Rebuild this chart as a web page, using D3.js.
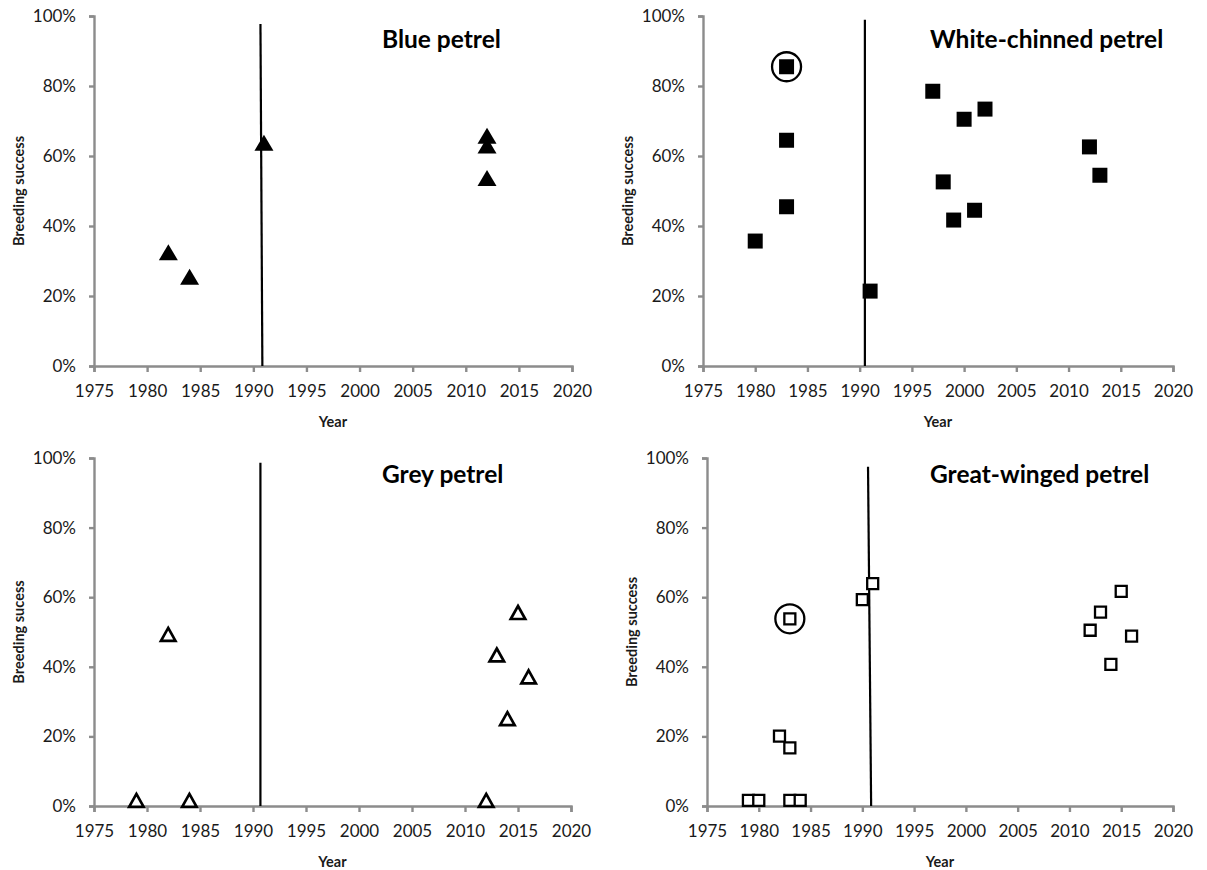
<!DOCTYPE html>
<html>
<head>
<meta charset="utf-8">
<script src="https://cdn.jsdelivr.net/npm/d3@7"></script>
<style>
  body { margin: 0; background: #fff; }
  svg { display: block; font-family: Lato, "Open Sans", sans-serif; }
</style>
</head>
<body>
<div id="chart"></div>
<script>
// Data, values in %
const xTicks = [1975, 1980, 1985, 1990, 1995, 2000, 2005, 2010, 2015, 2020];
const yTicks = [0, 20, 40, 60, 80, 100];

const titles = ["Blue petrel", "White-chinned petrel", "Grey petrel", "Great-winged petrel"];
const yLabels = ["Breeding success", "Breeding success", "Breeding sucess", "Breeding success"];

const blueYears = [1982, 1984, 1991, 2012, 2012, 2012];
const blueValues = [32.5, 25.5, 63.8, 65.8, 63, 53.7];
const blueRing = [0, 0, 0, 0, 0, 0];

const wcpYears = [1980, 1983, 1983, 1983, 1991, 1997, 1998, 1999, 2000, 2001, 2002, 2012, 2013];
const wcpValues = [35.7, 45.5, 64.5, 85.5, 21.4, 78.5, 52.6, 41.7, 70.5, 44.5, 73.4, 62.6, 54.5];
const wcpRing = [0, 0, 0, 1, 0, 0, 0, 0, 0, 0, 0, 0, 0];

const greyYears = [1979, 1982, 1984, 2012, 2013, 2014, 2015, 2016];
const greyValues = [1.6, 49.3, 1.6, 1.6, 43.4, 25.1, 55.6, 37.1];
const greyRing = [0, 0, 0, 0, 0, 0, 0, 0];

const gwpYears = [1979, 1980, 1982, 1983, 1983, 1984, 1983, 1990, 1991, 2012, 2013, 2014, 2015, 2016];
const gwpValues = [1.6, 1.6, 20.1, 16.7, 1.6, 1.6, 53.8, 59.3, 63.9, 50.5, 55.7, 40.7, 61.7, 48.8];
const gwpRing = [0, 0, 0, 0, 0, 0, 1, 0, 0, 0, 0, 0, 0, 0];

// vertical reference line per panel: year at top, year at bottom, top value (%)
const lineTopYear = [1990.67, 1990.5, 1990.7, 1990.55];
const lineBottomYear = [1990.85, 1990.5, 1990.7, 1990.85];
const lineTopValue = [97.7, 98.9, 98.6, 97.5];

// Layout
const W = 1207, H = 870;
const panels = [
  { left: 94, top: 16, width: 478, height: 350, titleX: 382, titleY: 48 },
  { left: 703, top: 16, width: 470, height: 350, titleX: 930, titleY: 48 },
  { left: 94, top: 458, width: 477, height: 348, titleX: 382, titleY: 483 },
  { left: 707, top: 458, width: 466, height: 348, titleX: 930, titleY: 483 }
];

// triangle centred on its bounding box (like Excel markers)
function triangle(w, h) {
  return {
    draw(ctx) {
      ctx.moveTo(0, -h / 2);
      ctx.lineTo(w / 2, h / 2);
      ctx.lineTo(-w / 2, h / 2);
      ctx.closePath();
    }
  };
}

const markers = [
  { type: triangle(19, 16), size: 0, fill: "#000", stroke: "none", sw: 0 },
  { type: d3.symbolSquare, size: 225, fill: "#000", stroke: "none", sw: 0 },
  { type: triangle(14.5, 13), size: 0, fill: "#fff", stroke: "#000", sw: 2.7 },
  { type: d3.symbolSquare, size: 121, fill: "#fff", stroke: "#000", sw: 2.3 }
];

const series = [
  { years: blueYears, values: blueValues, ring: blueRing },
  { years: wcpYears, values: wcpValues, ring: wcpRing },
  { years: greyYears, values: greyValues, ring: greyRing },
  { years: gwpYears, values: gwpValues, ring: gwpRing }
];

const svg = d3.select("#chart")
  .append("svg")
  .attr("width", W)
  .attr("height", H);

panels.forEach((p, i) => {
  const g = svg.append("g").attr("transform", `translate(${p.left},${p.top})`);

  const x = d3.scaleLinear().domain([1975, 2020]).range([0, p.width]);
  const y = d3.scaleLinear().domain([0, 100]).range([p.height, 0]);

  // X axis
  const xAxis = g.append("g")
    .attr("transform", `translate(0,${p.height})`)
    .call(d3.axisBottom(x).tickValues(xTicks).tickFormat(d3.format("d")).tickSize(6).tickPadding(13));

  // Y axis
  const yAxis = g.append("g")
    .call(d3.axisLeft(y).tickValues(yTicks).tickFormat(d => d + "%").tickSize(5).tickPadding(13));

  [xAxis, yAxis].forEach(a => {
    a.select(".domain").attr("stroke", "#8c8c8c").attr("stroke-width", 2.4);
    a.selectAll(".tick line").attr("stroke", "#8c8c8c").attr("stroke-width", 2.4);
    a.selectAll(".tick text")
      .attr("fill", "#1a1a1a")
      .style("font-size", "17px")
      .style("font-family", "Lato, 'Open Sans', sans-serif");
  });

  // vertical reference line
  g.append("line")
    .attr("x1", x(lineTopYear[i]))
    .attr("x2", x(lineBottomYear[i]))
    .attr("y1", y(lineTopValue[i]))
    .attr("y2", y(0))
    .attr("stroke", "#000")
    .attr("stroke-width", 2.2);

  // points
  const s = series[i];
  const m = markers[i];
  const pts = s.years.map((yr, k) => ({ year: yr, value: s.values[k], ring: s.ring[k] }));

  g.selectAll(".pt")
    .data(pts)
    .enter()
    .append("path")
    .attr("class", "pt")
    .attr("transform", d => `translate(${x(d.year)},${y(d.value)})`)
    .attr("d", d3.symbol().type(m.type).size(m.size))
    .attr("fill", m.fill)
    .attr("stroke", m.stroke)
    .attr("stroke-width", m.sw)
    .attr("stroke-linejoin", "miter");

  g.selectAll(".ring")
    .data(pts.filter(d => d.ring))
    .enter()
    .append("circle")
    .attr("class", "ring")
    .attr("cx", d => x(d.year))
    .attr("cy", d => y(d.value))
    .attr("r", 14.5)
    .attr("fill", "none")
    .attr("stroke", "#000")
    .attr("stroke-width", 2.3);

  // title
  svg.append("text")
    .attr("x", p.titleX)
    .attr("y", p.titleY)
    .style("font-size", "24.5px")
    .style("font-weight", "bold")
    .attr("fill", "#000")
    .text(titles[i]);

  // axis titles
  g.append("text")
    .attr("transform", `translate(${-75},${p.height / 2}) rotate(-90)`)
    .attr("text-anchor", "middle")
    .attr("dy", "0.35em")
    .style("font-size", "14.5px")
    .style("font-weight", "bold")
    .attr("fill", "#1a1a1a")
    .text(yLabels[i]);

  g.append("text")
    .attr("x", p.width / 2)
    .attr("y", p.height + 61)
    .attr("text-anchor", "middle")
    .style("font-size", "14.5px")
    .style("font-weight", "bold")
    .attr("fill", "#1a1a1a")
    .text("Year");
});
</script>
</body>
</html>
